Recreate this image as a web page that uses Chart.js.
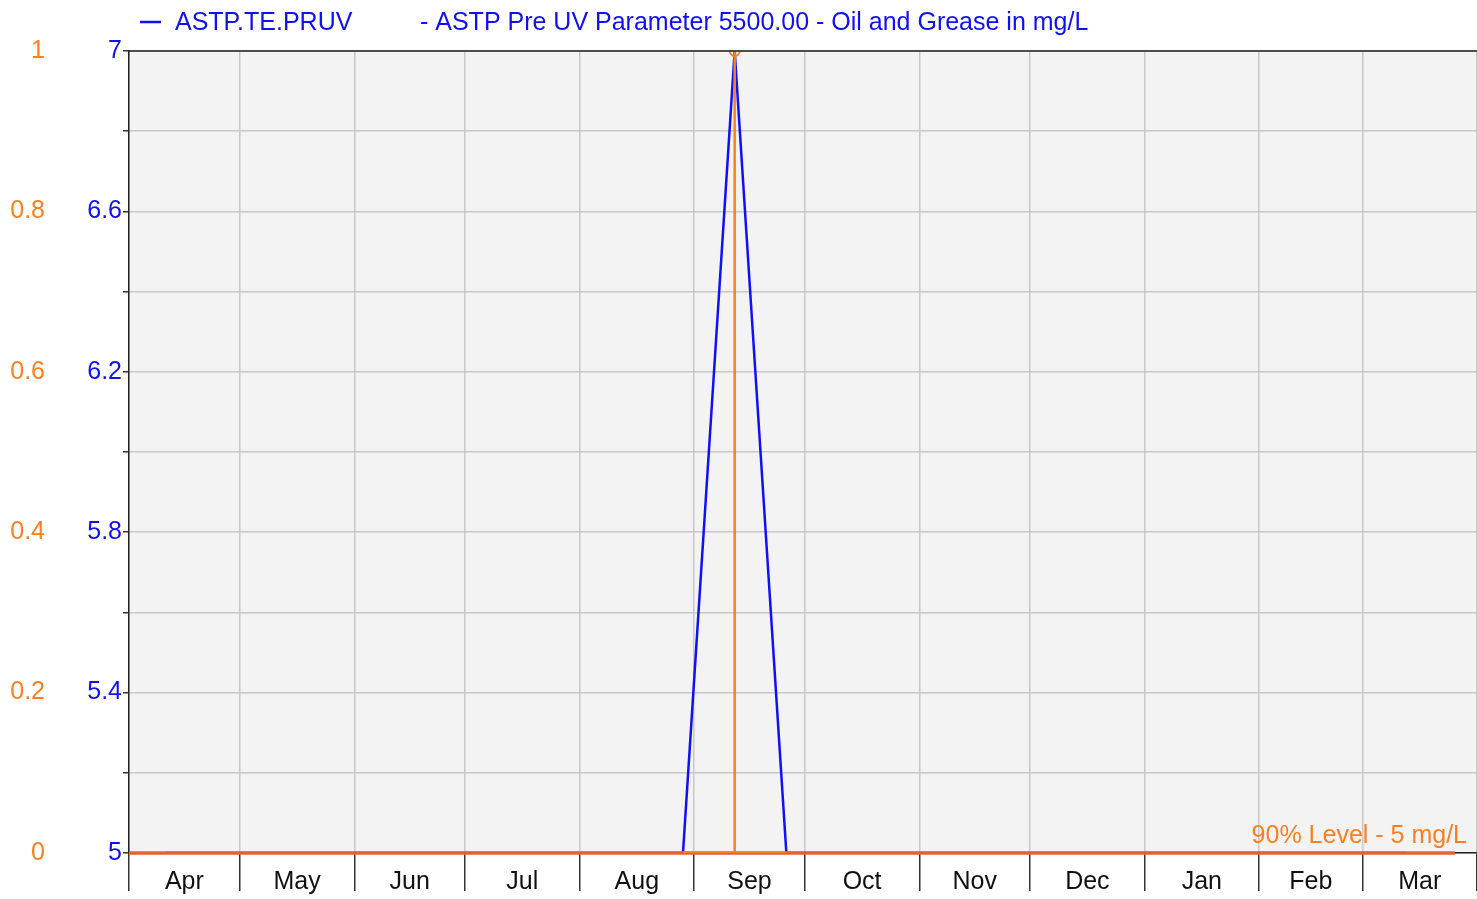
<!DOCTYPE html>
<html>
<head>
<meta charset="utf-8">
<script src="https://cdn.jsdelivr.net/npm/chart.js@4.4.1/dist/chart.umd.min.js"></script>
<style>
  html, body { margin: 0; padding: 0; background: #ffffff; }
  #wrap { width: 1477px; height: 899px; }
</style>
</head>
<body>
<div id="wrap"><canvas id="c" width="1477" height="899"></canvas></div>
<script>
// ---- data (days counted from 1 April) ----
const monthLabels = ['Apr','May','Jun','Jul','Aug','Sep','Oct','Nov','Dec','Jan','Feb','Mar'];
const monthStartDays = [0, 30, 61, 91, 122, 153, 183, 214, 244, 275, 306, 334, 365];

const sampleDays = [10, 24, 38, 52, 66, 80, 94, 108, 122, 136, 150, 164, 178, 192, 206, 220, 234, 248, 262, 276, 290, 304, 318, 332, 346];
const oilGrease  = [5, 5, 5, 5, 5, 5, 5, 5, 5, 5, 5, 7, 5, 5, 5, 5, 5, 5, 5, 5, 5, 5, 5, 5, 5];

const exceedDays  = [150, 164, 164, 164, 178];
const exceedFlags = [0, 0, 1, 0, 0];

const levelDays   = [0, 359];
const levelValues = [5, 5];
const levelLabel  = '90% Level - 5 mg/L';

const leftTickValues  = [5, 5.2, 5.4, 5.6, 5.8, 6, 6.2, 6.4, 6.6, 6.8, 7];
const leftTickLabels  = ['5', '', '5.4', '', '5.8', '', '6.2', '', '6.6', '', '7'];
const rightTickValues = [0, 0.2, 0.4, 0.6, 0.8, 1];
const rightTickLabels = ['0', '0.2', '0.4', '0.6', '0.8', '1'];

const legendSeries = 'ASTP.TE.PRUV';
const legendTitle  = '- ASTP Pre UV Parameter 5500.00 - Oil and Grease in mg/L';

// ---- styling ----
const BLUE = '#1010f5';
const ORANGE = '#ff7f1e';
const RED = '#e2623a';
const FONT = '"Liberation Sans", Arial, sans-serif';
const FS = 25;

const xTicks = [];
monthStartDays.forEach((d, i) => {
  xTicks.push({ value: d, kind: 'b' });
  if (i < monthLabels.length) xTicks.push({ value: (d + monthStartDays[i + 1]) / 2, kind: 'm', label: monthLabels[i] });
});
const isBoundary = v => monthStartDays.includes(v);

const bgPlugin = {
  id: 'bg',
  beforeDraw(chart) {
    const { ctx, chartArea: a } = chart;
    ctx.save();
    ctx.fillStyle = '#f3f3f3';
    ctx.fillRect(a.left, a.top, a.right - a.left, a.bottom - a.top);
    ctx.restore();
  },
  afterDraw(chart) {
    const { ctx, chartArea: a } = chart;
    ctx.save();
    // top border
    ctx.strokeStyle = '#222';
    ctx.lineWidth = 1.5;
    ctx.beginPath();
    ctx.moveTo(a.left, a.top);
    ctx.lineTo(a.right, a.top);
    ctx.stroke();
    // legend
    ctx.strokeStyle = BLUE;
    ctx.lineWidth = 2.5;
    ctx.beginPath();
    ctx.moveTo(140, 22);
    ctx.lineTo(161, 22);
    ctx.stroke();
    ctx.fillStyle = BLUE;
    ctx.font = FS + 'px ' + FONT;
    ctx.textBaseline = 'middle';
    ctx.textAlign = 'left';
    ctx.fillText(legendSeries, 175, 23);
    ctx.fillText(legendTitle, 420, 23);
    // level label
    ctx.fillStyle = ORANGE;
    ctx.textAlign = 'right';
    ctx.fillText(levelLabel, 1467, 836);
    ctx.restore();
  }
};

new Chart(document.getElementById('c'), {
  type: 'line',
  data: {
    datasets: [
      {
        label: 'exceedance',
        data: exceedDays.map((d, i) => ({ x: d, y: exceedFlags[i] })),
        yAxisID: 'yR',
        borderColor: ORANGE,
        borderWidth: 2.5,
        pointRadius: ctx => (ctx.raw && ctx.raw.y === 1 ? 5 : 0),
        pointBorderColor: ORANGE,
        pointBackgroundColor: 'rgba(0,0,0,0)',
        pointBorderWidth: 2,
        tension: 0,
        order: 1
      },
      {
        label: levelLabel,
        data: levelDays.map((d, i) => ({ x: d, y: levelValues[i] })),
        yAxisID: 'yL',
        borderColor: RED,
        borderWidth: 3.5,
        pointRadius: 0,
        tension: 0,
        clip: false,
        order: 2
      },
      {
        label: legendSeries,
        data: sampleDays.map((d, i) => ({ x: d, y: oilGrease[i] })),
        yAxisID: 'yL',
        borderColor: BLUE,
        borderWidth: 2.5,
        pointRadius: 0,
        tension: 0,
        order: 3
      }
    ]
  },
  options: {
    responsive: false,
    animation: false,
    devicePixelRatio: 1,
    layout: { padding: { top: 51, left: 0, right: 0, bottom: 0 } },
    plugins: { legend: { display: false }, tooltip: { enabled: false } },
    scales: {
      x: {
        type: 'linear',
        min: 0,
        max: 365,
        afterBuildTicks: s => { s.ticks = xTicks.map(t => ({ value: t.value })); },
        afterFit: s => { s.height = 46; },
        grid: {
          color: ctx => (ctx.tick && isBoundary(ctx.tick.value) ? '#c8c8c8' : 'rgba(0,0,0,0)'),
          tickColor: ctx => (ctx.tick && isBoundary(ctx.tick.value) ? '#333' : 'rgba(0,0,0,0)'),
          tickLength: 38,
          lineWidth: 1.5
        },
        border: { color: '#222', width: 1.5 },
        ticks: {
          autoSkip: false,
          maxRotation: 0,
          padding: -24,
          color: '#111',
          font: { family: FONT, size: FS },
          callback: (v) => { const t = xTicks.find(k => k.value === v); return t && t.kind === 'm' ? t.label : ''; }
        }
      },
      yR: {
        position: 'left',
        weight: 1,
        min: 0,
        max: 1,
        afterBuildTicks: s => { s.ticks = rightTickValues.map(v => ({ value: v })); },
        afterFit: s => { s.width = 50; },
        grid: { display: false, drawTicks: false, tickLength: 0 },
        border: { display: false },
        ticks: {
          autoSkip: false,
          padding: 5,
          color: ORANGE,
          font: { family: FONT, size: FS },
          callback: (v, i) => rightTickLabels[i]
        }
      },
      yL: {
        position: 'left',
        weight: 0,
        min: 5,
        max: 7,
        afterBuildTicks: s => { s.ticks = leftTickValues.map(v => ({ value: v })); },
        afterFit: s => { s.width = 79; },
        grid: { color: '#c8c8c8', tickColor: '#333', tickLength: 6, lineWidth: 1.5 },
        border: { color: '#222', width: 1.5 },
        ticks: {
          autoSkip: false,
          padding: 1,
          color: BLUE,
          font: { family: FONT, size: FS },
          callback: (v, i) => leftTickLabels[i]
        }
      }
    }
  },
  plugins: [bgPlugin]
});
</script>
</body>
</html>
